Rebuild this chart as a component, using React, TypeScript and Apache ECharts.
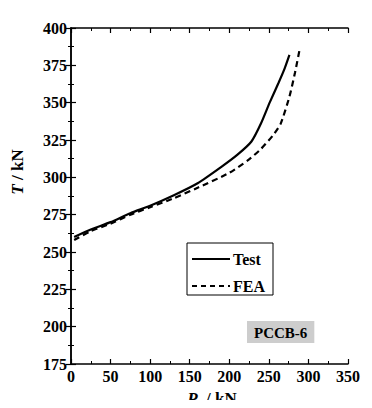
import React, { useEffect, useRef } from "react";
import * as echarts from "echarts";

const testData: [number, number][] = [
  [4, 260], [25, 265], [50, 270], [75, 276], [100, 281], [130, 288], [160, 296],
  [190, 307], [210, 315], [228, 324], [240, 336], [251, 350], [262, 363], [270, 373], [276, 382],
];
const feaData: [number, number][] = [
  [4, 258], [25, 264], [50, 269], [75, 275], [100, 280], [130, 286], [160, 293],
  [200, 303], [225, 312], [240, 319], [255, 328], [265, 336], [276, 354], [283, 370], [289, 386],
];
const seriesNames = ["Test", "FEA"];
const specimen = "PCCB-6";

const FONT = "Liberation Serif, Times New Roman, serif";

export default function App() {
  const ref = useRef<HTMLDivElement>(null);
  useEffect(() => {
    if (!ref.current) return;
    const chart = echarts.init(ref.current, null, { renderer: "svg" });
    const tickCommon = {
      axisLine: { show: true, lineStyle: { color: "#000", width: 1.5 } },
      axisTick: { show: true, inside: true, length: 5, lineStyle: { color: "#000", width: 1.2 } },
      minorTick: { show: true, splitNumber: 2, length: 3, lineStyle: { color: "#000", width: 1 } },
      splitLine: { show: false },
    };
    const labelStyle = { color: "#000", fontFamily: FONT, fontSize: 16, fontWeight: "bold" as const, margin: 4 };
    chart.setOption({
      animation: false,
      backgroundColor: "#fff",
      grid: { left: 71, right: 24, top: 28, bottom: 44 },
      xAxis: [
        { type: "value", min: 0, max: 350, interval: 50, position: "bottom", ...tickCommon, axisLabel: labelStyle },
        { type: "value", min: 0, max: 350, interval: 50, position: "top", ...tickCommon, axisLabel: { show: false } },
      ],
      yAxis: [
        { type: "value", min: 175, max: 400, interval: 25, position: "left", ...tickCommon, axisLabel: labelStyle },
        { type: "value", min: 175, max: 400, interval: 25, position: "right", ...tickCommon, axisLabel: { show: false } },
      ],
      series: [
        {
          name: seriesNames[0], type: "line", data: testData, smooth: 0.2, symbol: "none",
          lineStyle: { color: "#000", width: 2.2, type: "solid" },
        },
        {
          name: seriesNames[1], type: "line", data: feaData, smooth: 0.2, symbol: "none",
          lineStyle: { color: "#000", width: 2.2, type: [6, 4] },
        },
      ],
      graphic: [
        {
          type: "rect", shape: { x: 187, y: 243, width: 86, height: 52 },
          style: { fill: "#fff", stroke: "#000", lineWidth: 1 },
        },
        {
          type: "line", shape: { x1: 192, y1: 259, x2: 230, y2: 259 },
          style: { stroke: "#000", lineWidth: 2 },
        },
        {
          type: "line", shape: { x1: 192, y1: 286, x2: 230, y2: 286 },
          style: { stroke: "#000", lineWidth: 2, lineDash: [5, 4] },
        },
        {
          type: "text", x: 233, y: 259,
          style: { text: seriesNames[0], fill: "#000", fontFamily: FONT, fontSize: 16, fontWeight: "bold", verticalAlign: "middle" },
        },
        {
          type: "text", x: 233, y: 286,
          style: { text: seriesNames[1], fill: "#000", fontFamily: FONT, fontSize: 16, fontWeight: "bold", verticalAlign: "middle" },
        },
        {
          type: "text", x: 247, y: 321,
          style: {
            text: specimen, fill: "#000", fontFamily: FONT, fontSize: 15, fontWeight: "bold",
            backgroundColor: "#cdcdcd", padding: [4, 7, 3, 7],
          },
        },
        {
          type: "text", x: 17, y: 172, rotation: Math.PI / 2,
          style: {
            text: "{i|T} / kN", fill: "#000", align: "center", verticalAlign: "middle",
            fontFamily: FONT, fontSize: 17, fontWeight: "bold",
            rich: { i: { fontFamily: FONT, fontSize: 17, fontWeight: "bold", fontStyle: "italic", fill: "#000" } },
          },
        },
        {
          type: "text", x: 212, y: 398,
          style: {
            text: "{i|P}  / kN", fill: "#000", align: "center", verticalAlign: "middle",
            fontFamily: FONT, fontSize: 17, fontWeight: "bold",
            rich: { i: { fontFamily: FONT, fontSize: 17, fontWeight: "bold", fontStyle: "italic", fill: "#000" } },
          },
        },
      ],
    });
    return () => chart.dispose();
  }, []);
  return <div ref={ref} style={{ width: 372, height: 408, margin: -8 }} />;
}
